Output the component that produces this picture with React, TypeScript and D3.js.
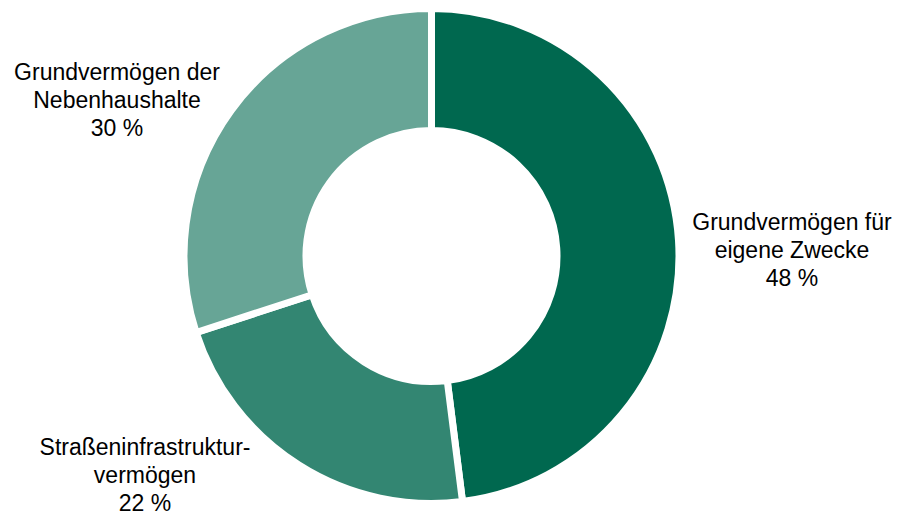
import React from "react";
import * as d3 from "d3";

const categories = ["Grundvermögen für eigene Zwecke", "Straßeninfrastrukturvermögen", "Grundvermögen der Nebenhaushalte"];
const values = [48, 22, 30];
const colors = ["#00684f", "#338672", "#67a596"];
const labelLines = [
  ["Grundvermögen für", "eigene Zwecke", "48 %"],
  ["Straßeninfrastruktur-", "vermögen", "22 %"],
  ["Grundvermögen der", "Nebenhaushalte", "30 %"],
];
const labelPos = [
  [792, 222],
  [145, 447],
  [117, 72],
];

export default function App() {
  const W = 913, H = 515;
  const cx = 431.5, cy = 256;
  const pie = d3.pie<number>().sort(null).value((d) => d)(values);
  const arc = d3.arc<d3.PieArcDatum<number>>().innerRadius(125.5).outerRadius(247.5);
  return (
    <svg width={W} height={H} style={{ position: "absolute", left: 0, top: 0, background: "#fff" }}>
      <g transform={`translate(${cx},${cy})`}>
        {pie.map((p, i) => (
          <path key={categories[i]} d={arc(p) || ""} fill={colors[i]} stroke="#fff" strokeWidth={7} strokeLinejoin="miter" />
        ))}
      </g>
      {labelLines.map((lines, i) => (
        <text key={i} textAnchor="middle" fontFamily="Liberation Sans, Arial, sans-serif" fontSize={23} fill="#000">
          {lines.map((l, j) => (
            <tspan key={j} x={labelPos[i][0]} y={labelPos[i][1] + 8 + j * 28}>{l}</tspan>
          ))}
        </text>
      ))}
    </svg>
  );
}
